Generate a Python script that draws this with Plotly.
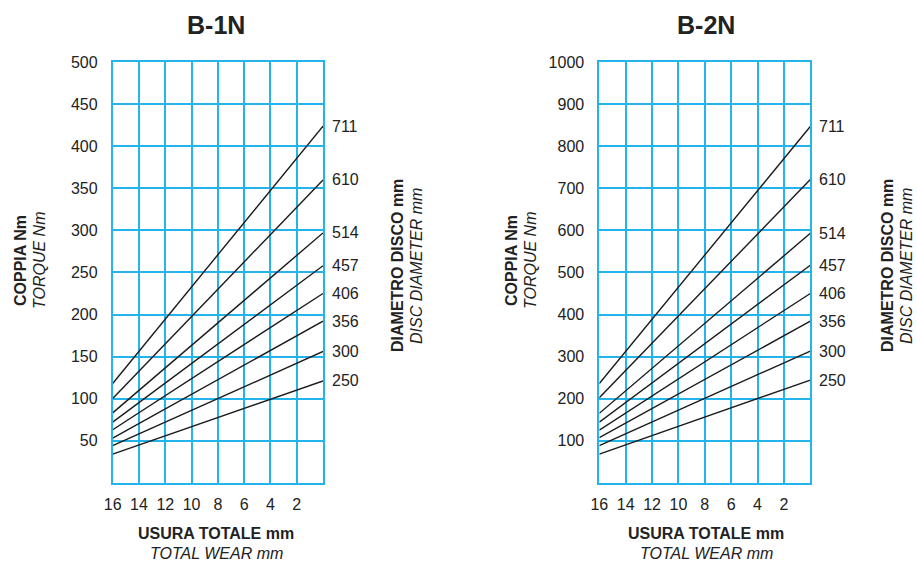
import plotly.graph_objects as go

# ---- data ----
diameters = ["711", "610", "514", "457", "406", "356", "300", "250"]
wear_points = [16, 0]
b1n_at_wear16 = [118, 100, 83, 72, 63, 53, 44, 34]
b1n_at_wear0 = [424, 360, 297, 258, 225, 192, 156, 121]
b2n_at_wear16 = [236, 202, 165, 144, 125, 107, 88, 68]
b2n_at_wear0 = [847, 721, 593, 517, 450, 384, 313, 244]
x_ticks = [16, 14, 12, 10, 8, 6, 4, 2]
y1_ticks = [50, 100, 150, 200, 250, 300, 350, 400, 450, 500]
y2_ticks = [100, 200, 300, 400, 500, 600, 700, 800, 900, 1000]

W, H = 917, 563
GRID = "#22B4EA"
FONT = "Liberation Sans"

def px(x):
    return x / W

def py(y):
    return 1 - y / H

fig = go.Figure()

for d, a, b in zip(diameters, b1n_at_wear16, b1n_at_wear0):
    fig.add_trace(go.Scatter(x=wear_points, y=[a, b], mode="lines",
                             line=dict(color="#1a1a1a", width=1.4),
                             xaxis="x", yaxis="y", showlegend=False, hoverinfo="skip"))
    fig.add_annotation(x=0, y=b, xref="x", yref="y", text=d, showarrow=False,
                       xanchor="left", yanchor="middle", xshift=7,
                       font=dict(family=FONT, size=16, color="#222"))

for d, a, b in zip(diameters, b2n_at_wear16, b2n_at_wear0):
    fig.add_trace(go.Scatter(x=wear_points, y=[a, b], mode="lines",
                             line=dict(color="#1a1a1a", width=1.4),
                             xaxis="x2", yaxis="y2", showlegend=False, hoverinfo="skip"))
    fig.add_annotation(x=0, y=b, xref="x2", yref="y2", text=d, showarrow=False,
                       xanchor="left", yanchor="middle", xshift=7,
                       font=dict(family=FONT, size=16, color="#222"))

xdom1 = [px(112.7), px(323)]
xdom2 = [px(599.3), px(810.3)]
ydom = [py(482.7), py(62.2)]

common_x = dict(range=[16, 0], tickvals=x_ticks, ticktext=[str(v) for v in x_ticks],
                showgrid=True, gridcolor=GRID, gridwidth=1.8, zeroline=False,
                showline=True, linecolor=GRID, linewidth=1.8, mirror=True,
                ticks="", ticklabelstandoff=6, automargin=False,
                tickfont=dict(family=FONT, size=16, color="#222"))
common_y = dict(showgrid=True, gridcolor=GRID, gridwidth=1.8, zeroline=False,
                showline=True, linecolor=GRID, linewidth=1.8, mirror=True,
                ticks="", ticklabelstandoff=10, automargin=False,
                tickfont=dict(family=FONT, size=16, color="#222"))

fig.update_layout(
    width=W, height=H,
    margin=dict(l=0, r=0, t=0, b=0, pad=0),
    paper_bgcolor="white", plot_bgcolor="white",
    xaxis=dict(domain=xdom1, anchor="y", **common_x),
    yaxis=dict(domain=ydom, anchor="x", range=[0, 500], tickvals=y1_ticks, **common_y),
    xaxis2=dict(domain=xdom2, anchor="y2", **common_x),
    yaxis2=dict(domain=ydom, anchor="x2", range=[0, 1000], tickvals=y2_ticks, **common_y),
)

def txt(x, y, text, size, bold=False, italic=False, angle=0):
    t = text
    if bold:
        t = "<b>" + t + "</b>"
    if italic:
        t = "<i>" + t + "</i>"
    fig.add_annotation(x=px(x), y=py(y), xref="paper", yref="paper", text=t,
                       showarrow=False, xanchor="center", yanchor="middle",
                       textangle=angle,
                       font=dict(family=FONT, size=size, color="#222"))

# titles
txt(216, 25, "B-1N", 25, bold=True)
txt(706, 25, "B-2N", 25, bold=True)

# x axis titles
for cx in (216, 706):
    txt(cx, 533, "USURA TOTALE mm", 16, bold=True)
    txt(cx, 553, "TOTAL WEAR mm", 16, italic=True)

# y axis titles (left)
for lx in (20, 511):
    txt(lx, 261, "COPPIA Nm", 16, bold=True, angle=-90)
    txt(lx + 19, 261, "TORQUE Nm", 16, italic=True, angle=-90)

# right side titles
for rx in (397, 887):
    txt(rx, 266, "DIAMETRO DISCO mm", 16, bold=True, angle=-90)
    txt(rx + 19, 266, "DISC DIAMETER mm", 16, italic=True, angle=-90)

fig.write_html(
    "out.html",
    config={"displayModeBar": False},
    post_script="document.body.style.margin='0';document.body.style.padding='0';document.body.style.overflow='hidden';",
)
